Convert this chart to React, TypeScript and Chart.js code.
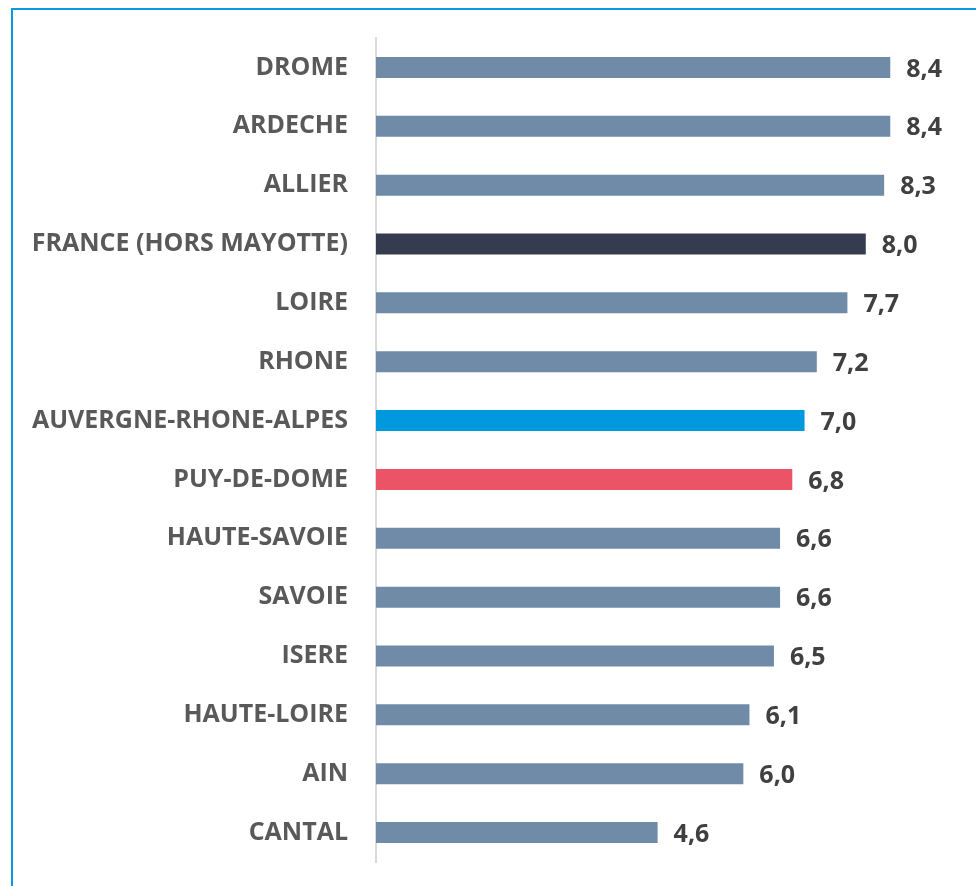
import React, { useEffect, useRef } from "react";
import { Chart, registerables } from "chart.js";

Chart.register(...registerables);

const categories = [
  "DROME",
  "ARDECHE",
  "ALLIER",
  "FRANCE (HORS MAYOTTE)",
  "LOIRE",
  "RHONE",
  "AUVERGNE-RHONE-ALPES",
  "PUY-DE-DOME",
  "HAUTE-SAVOIE",
  "SAVOIE",
  "ISERE",
  "HAUTE-LOIRE",
  "AIN",
  "CANTAL",
];

const values = [8.4, 8.4, 8.3, 8.0, 7.7, 7.2, 7.0, 6.8, 6.6, 6.6, 6.5, 6.1, 6.0, 4.6];

const DEFAULT_COLOR = "#6f8ba8";
const highlightColors: Record<string, string> = {
  "FRANCE (HORS MAYOTTE)": "#363c4f",
  "AUVERGNE-RHONE-ALPES": "#0099dd",
  "PUY-DE-DOME": "#eb5466",
};

const FONT_FAMILY = "'Open Sans', 'DejaVu Sans', sans-serif";
const FONT_SIZE = 25;

const valueLabelPlugin = {
  id: "valueLabels",
  afterDatasetsDraw(chart: any) {
    const ctx = chart.ctx;
    const meta = chart.getDatasetMeta(0);
    ctx.save();
    ctx.font = `bold ${FONT_SIZE}px ${FONT_FAMILY}`;
    ctx.fillStyle = "#404040";
    ctx.textAlign = "left";
    ctx.textBaseline = "middle";
    meta.data.forEach((bar: any, i: number) => {
      const txt = values[i].toFixed(1).replace(".", ",");
      ctx.fillText(txt, bar.x + 16, bar.y + 2);
    });
    ctx.restore();
  },
};

export default function App() {
  const canvasRef = useRef<HTMLCanvasElement | null>(null);

  useEffect(() => {
    if (!canvasRef.current) return;
    const chart = new Chart(canvasRef.current, {
      type: "bar",
      data: {
        labels: categories,
        datasets: [
          {
            data: values,
            backgroundColor: categories.map((c) => highlightColors[c] || DEFAULT_COLOR),
            borderWidth: 0,
            categoryPercentage: 1,
            barPercentage: 0.357,
          },
        ],
      },
      options: {
        indexAxis: "y",
        responsive: false,
        maintainAspectRatio: false,
        animation: false,
        layout: { padding: { top: 38, bottom: 24, left: 0, right: 49 } },
        plugins: {
          legend: { display: false },
          tooltip: { enabled: false },
          title: { display: false },
        },
        scales: {
          x: {
            display: false,
            min: 0,
            max: 9,
          },
          y: {
            afterFit: (scale: any) => {
              scale.width = 376;
              scale.paddingTop = 0;
              scale.paddingBottom = 0;
            },
            grid: { display: true, color: "rgba(0,0,0,0)", drawTicks: false },
            border: { display: true, color: "#d9d9d9", width: 2 },
            ticks: {
              padding: 28,
              color: "#595959",
              font: { family: FONT_FAMILY, size: FONT_SIZE, weight: "bold" },
            },
          },
        },
      },
      plugins: [valueLabelPlugin],
    });
    return () => chart.destroy();
  }, []);

  return (
    <div
      style={{
        position: "fixed",
        left: 0,
        top: 0,
        width: 976,
        height: 886,
        overflow: "hidden",
        background: "#ffffff",
      }}
    >
      <div
        style={{
          position: "absolute",
          left: 11,
          top: 8,
          width: 1000,
          height: 1000,
          borderTop: "2px solid #0a9ae0",
          borderLeft: "2px solid #0a9ae0",
        }}
      />
      <canvas
        ref={canvasRef}
        width={976}
        height={886}
        style={{ position: "absolute", left: 0, top: 0 }}
      />
    </div>
  );
}
